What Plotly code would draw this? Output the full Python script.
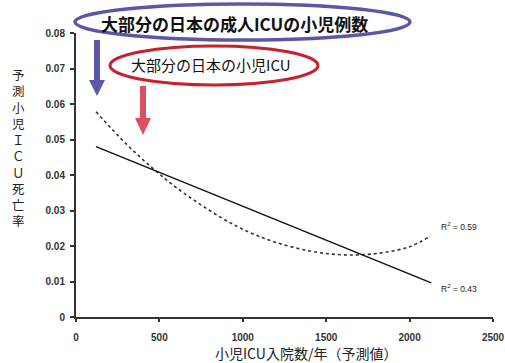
import plotly.graph_objects as go

# Data
linear_x = [120, 2130]
linear_y = [0.048, 0.0096]

poly_x = [120, 300, 462, 600, 863, 1043, 1200, 1400, 1565, 1700, 1850, 2000, 2110]
poly_y = [0.0578, 0.0488, 0.0418, 0.0365, 0.0282, 0.0238, 0.0210, 0.0186, 0.0176, 0.0175, 0.0182, 0.0198, 0.0224]

y_ticks = [0, 0.01, 0.02, 0.03, 0.04, 0.05, 0.06, 0.07, 0.08]
y_labels = ["0", "0.01", "0.02", "0.03", "0.04", "0.05", "0.06", "0.07", "0.08"]
x_ticks = [0, 500, 1000, 1500, 2000, 2500]
x_labels = ["0", "500", "1000", "1500", "2000", "2500"]

r2_labels = ["R<sup>2</sup> = 0.59", "R<sup>2</sup> = 0.43"]
title_big = "大部分の日本の成人ICUの小児例数"
title_small = "大部分の日本の小児ICU"
x_title = "小児ICU入院数/年（予測値）"
y_title = "予測小児ＩＣＵ死亡率"

W, H = 505, 363
L, R, T, B = 76, 12, 33, 46
PW = W - L - R
PH = H - T - B


def px(x):
    return (x - L) / PW


def py(y):
    return (H - B - y) / PH


fig = go.Figure()
fig.add_trace(go.Scatter(x=poly_x, y=poly_y, mode="lines",
                         line=dict(color="#333333", width=1.6, dash="3px,3px", shape="spline"),
                         showlegend=False, hoverinfo="skip"))
fig.add_trace(go.Scatter(x=linear_x, y=linear_y, mode="lines",
                         line=dict(color="#111111", width=1.5),
                         showlegend=False, hoverinfo="skip"))

purple = "#5b57a6"
red_ring = "#c8202f"
red_arrow = "#d9505e"

shapes = [
    dict(type="circle", xref="paper", yref="paper", x0=px(75), x1=px(410), y0=py(40), y1=py(4),
         line=dict(color=purple, width=3.5), fillcolor="rgba(255,255,255,0)"),
    dict(type="circle", xref="paper", yref="paper", x0=px(110), x1=px(318), y0=py(85), y1=py(46),
         line=dict(color=red_ring, width=3), fillcolor="rgba(255,255,255,0)"),
    # purple arrow
    dict(type="rect", xref="paper", yref="paper", x0=px(94), x1=px(100), y0=py(81), y1=py(40),
         line=dict(width=0), fillcolor=purple),
    dict(type="path", xref="paper", yref="paper",
         path=f"M {px(89)} {py(80)} L {px(105)} {py(80)} L {px(97)} {py(96)} Z",
         line=dict(width=0), fillcolor=purple),
    # red arrow
    dict(type="rect", xref="paper", yref="paper", x0=px(140), x1=px(146), y0=py(119), y1=py(86),
         line=dict(width=0), fillcolor=red_arrow),
    dict(type="path", xref="paper", yref="paper",
         path=f"M {px(135)} {py(118)} L {px(151)} {py(118)} L {px(143)} {py(135)} Z",
         line=dict(width=0), fillcolor=red_arrow),
]


def note(text, x, y, size, family="Noto Sans CJK JP", color="#111111", xanchor="center", **kw):
    return dict(text=text, x=px(x), y=py(y), xref="paper", yref="paper", showarrow=False,
                xanchor=xanchor, yanchor="middle",
                font=dict(family=family, size=size, color=color, **kw))


annos = [
    note(title_big, 234, 24, 17, weight="bold"),
    note(title_small, 211, 65, 15),
    note(r2_labels[0], 439, 226, 8.5, family="Liberation Sans", color="#222222", xanchor="left"),
    note(r2_labels[1], 439, 288, 8.5, family="Liberation Sans", color="#222222", xanchor="left"),
    note(x_title, 306, 353, 14, color="#222222"),
    note("<br>".join(list(y_title)), 18, 147, 12.5, color="#222222"),
]

fig.update_layout(
    width=W, height=H,
    margin=dict(l=L, r=R, t=T, b=B),
    paper_bgcolor="white", plot_bgcolor="white",
    shapes=shapes, annotations=annos,
    xaxis=dict(range=[0, 2500], tickvals=x_ticks, ticktext=x_labels, automargin=False,
               showgrid=False, zeroline=False, showline=True, linecolor="#333333", linewidth=2,
               ticks="outside", ticklen=3, tickcolor="#333333", tickwidth=1.5,
               ticklabelstandoff=7,
               tickfont=dict(family="Liberation Sans", size=10, color="#333333", weight="bold")),
    yaxis=dict(range=[0, 0.08], tickvals=y_ticks, ticktext=y_labels, automargin=False,
               showgrid=False, zeroline=False, showline=True, linecolor="#333333", linewidth=2,
               ticks="outside", ticklen=4, tickcolor="#333333", tickwidth=1.5,
               ticklabelstandoff=3,
               tickfont=dict(family="Liberation Sans", size=10, color="#333333", weight="bold")),
)

fig.write_html("out.html", config={"displayModeBar": False},
               post_script="document.body.style.margin='0';document.body.style.overflow='hidden';")
